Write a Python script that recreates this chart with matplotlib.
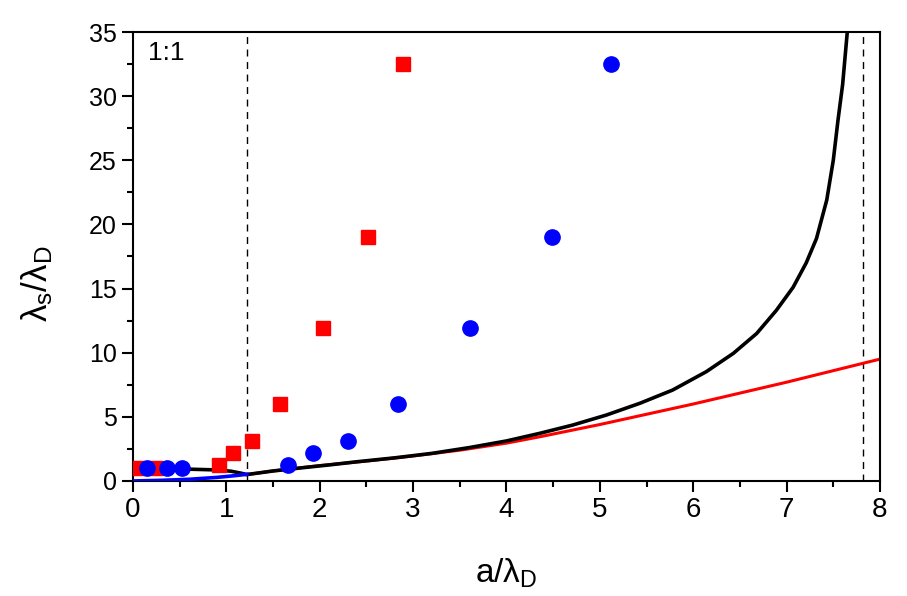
import matplotlib
matplotlib.use("Agg")
import matplotlib.pyplot as plt
from matplotlib.ticker import MultipleLocator

plt.rcParams['font.family'] = ['Liberation Sans', 'DejaVu Sans']
plt.rcParams['mathtext.fontset'] = 'custom'
plt.rcParams['mathtext.rm'] = 'Liberation Sans'
plt.rcParams['mathtext.it'] = 'Liberation Sans:italic'

# Black curve (full model)
black_x = [0, 0.3, 0.6, 0.9, 1.05, 1.15, 1.22, 1.5, 1.8, 2.1, 2.4, 2.8, 3.2, 3.6, 4.0, 4.36,
           4.71, 5.07, 5.43, 5.78, 6.14, 6.43, 6.68, 6.89, 7.07, 7.21, 7.32, 7.43, 7.5, 7.55,
           7.6, 7.65]
black_y = [1.0, 0.96, 0.92, 0.86, 0.76, 0.62, 0.5, 0.78, 1.02, 1.25, 1.5, 1.8, 2.15, 2.6, 3.12, 3.72,
           4.36, 5.14, 6.06, 7.09, 8.52, 9.95, 11.5, 13.3, 15.1, 17.0, 18.9, 21.9, 25.0, 28.1,
           30.9, 35.0]
# Red curve (approximation)
red_x = [1.22, 1.5, 2.0, 2.5, 3.0, 3.5, 4.0, 4.36, 5.0, 5.5, 6.0, 6.5, 7.0, 7.5, 8.0]
red_y = [0.5, 0.78, 1.2, 1.55, 1.95, 2.4, 2.95, 3.45, 4.4, 5.2, 6.0, 6.85, 7.7, 8.6, 9.5]
# Blue curve (lower branch)
blue_x = [0, 0.3, 0.6, 0.9, 1.1, 1.22]
blue_y = [0.0, 0.05, 0.13, 0.28, 0.42, 0.52]

# Symbols
sq_x = [0.05, 0.25, 0.92, 1.07, 1.28, 1.58, 2.03, 2.52, 2.89]
sq_y = [1.0, 1.0, 1.25, 2.2, 3.1, 6.0, 11.9, 19.0, 32.5]
ci_x = [0.15, 0.36, 0.52, 1.66, 1.93, 2.30, 2.84, 3.61, 4.49, 5.12]
ci_y = [1.0, 1.0, 1.0, 1.25, 2.2, 3.1, 6.0, 11.9, 19.0, 32.5]

vlines_x = [1.22, 7.82]

fig = plt.figure(figsize=(9.07, 5.96), dpi=100)
ax = fig.add_axes([0.1466, 0.193, 0.8236, 0.7533])

for xv in vlines_x:
    ax.axvline(xv, color='black', lw=1.0, ls=(0, (5, 4)), zorder=1)

ax.plot(red_x, red_y, color='red', lw=2.2, zorder=2, solid_joinstyle='round')
ax.plot(black_x, black_y, color='black', lw=2.6, zorder=3, solid_joinstyle='round')
ax.plot(blue_x, blue_y, color='blue', lw=2.6, zorder=3, solid_joinstyle='round')

ax.plot(sq_x, sq_y, ls='none', marker='s', ms=10, color='red', mec='red', zorder=4)
ax.plot(ci_x, ci_y, ls='none', marker='o', ms=11, color='blue', mec='blue', zorder=5)

ax.set_xlim(0, 8)
ax.set_ylim(0, 35)
ax.xaxis.set_major_locator(MultipleLocator(1))
ax.xaxis.set_minor_locator(MultipleLocator(0.5))
ax.yaxis.set_major_locator(MultipleLocator(5))
ax.yaxis.set_minor_locator(MultipleLocator(2.5))
ax.tick_params(which='both', direction='out', top=False, right=False, width=1.5, labelsize=18)
ax.tick_params(which='major', length=8)
ax.tick_params(which='minor', length=4)
ax.tick_params(axis='x', labelsize=20)
for s in ax.spines.values():
    s.set_linewidth(1.5)

ax.text(0.16, 33.4, '1:1', fontsize=19, ha='left', va='center')

ax.set_xlabel(r'a/λ$_\mathrm{D}$', fontsize=24, labelpad=24)
ax.set_ylabel(r'λ$_\mathrm{s}$/λ$_\mathrm{D}$', fontsize=25)
ax.yaxis.set_label_coords(-0.104, 0.44)

fig.savefig('out.png', dpi=100)
